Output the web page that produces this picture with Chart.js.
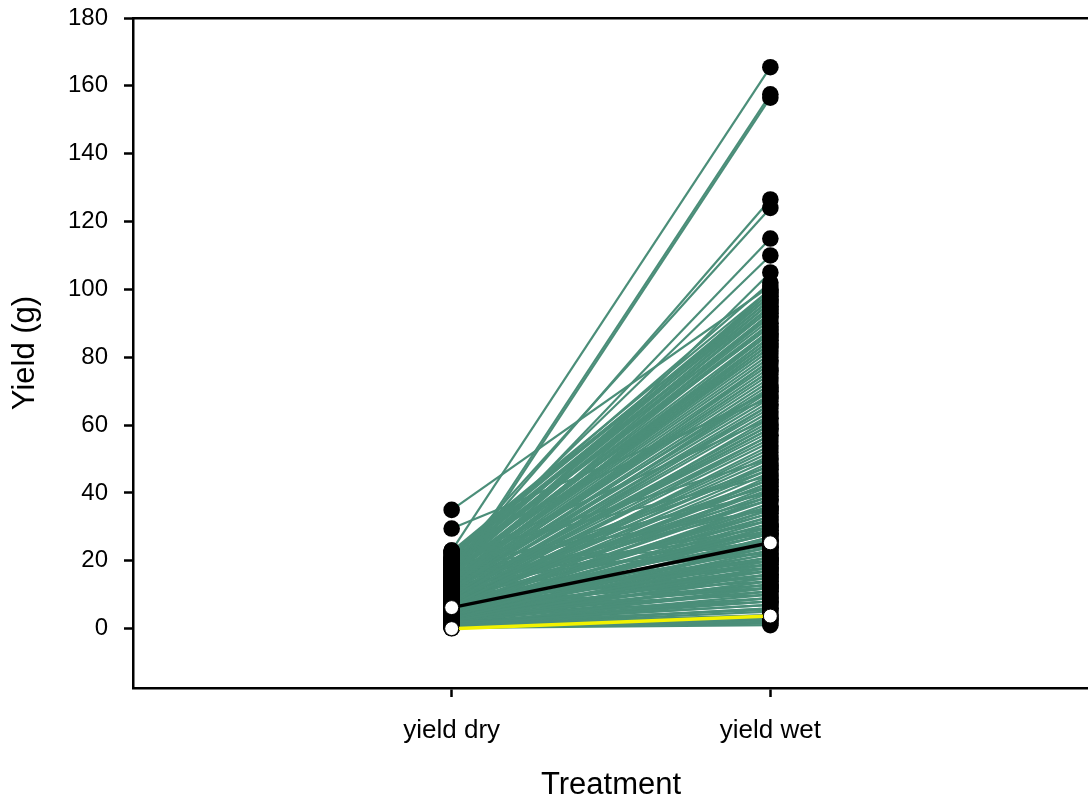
<!DOCTYPE html>
<html lang="en">
<head>
<meta charset="UTF-8">
<title>Yield</title>
<script src="https://cdn.jsdelivr.net/npm/chart.js@4.4.0/dist/chart.umd.min.js"></script>
<style>
    html, body { margin: 0; padding: 0; background: #fff; overflow: hidden; }
    #wrap { width: 1100px; height: 803px; }
</style>
</head>
<body>
<div id="wrap"><canvas id="yieldchart" width="1100" height="803"></canvas></div>
<script>
// treatment categories on the x axis
var categories = ['yield dry', 'yield wet'];
var yTicks = [0, 20, 40, 60, 80, 100, 120, 140, 160, 180];

// paired yields (g), one entry per plant: dry -> wet
var dryYield = [
    23, 15, 14, 35, 29.5, 18, 20, 17, 19, 12, 21, 16, 22.5,
    1.2, 3.5, 7.8, 12.4, 5.1, 9.6, 14.2, 2.3, 17.5, 6.7,
    0.8, 4.4, 11.1, 15.8, 8.9, 19.3, 3.0, 10.5, 13.7, 6.2,
    1.9, 20.4, 7.1, 16.6, 4.8, 12.9, 9.2, 18.1, 2.7, 14.9,
    0.5, 5.6, 11.8, 21.7, 8.3, 13.2, 3.8, 17.0, 6.4, 10.1,
    1.4, 15.3, 7.5, 19.8, 4.1, 12.0, 9.9, 22.1, 2.5, 16.2,
    0.3, 6.9, 13.9, 5.3, 11.4, 18.7, 8.6, 3.3, 14.6, 10.8,
    1.7, 20.9, 7.3, 16.9, 4.6, 12.6, 9.4, 2.1, 15.1, 6.0,
    0.9, 17.8, 8.1, 13.4, 3.6, 11.6, 19.1, 5.8, 10.3, 14.4,
    2.9, 21.2, 7.7, 16.4, 4.3, 12.2, 9.0, 1.1, 18.4, 6.5,
    0.6, 15.6, 8.4, 13.0, 3.1, 11.0, 20.1, 5.0, 10.6, 17.3,
    2.0, 14.0, 7.0, 19.5, 4.9, 12.7, 9.7, 1.5, 16.0, 6.3,
    22.8, 3.9, 11.3, 18.9, 8.0, 13.6, 5.5, 10.0, 15.0, 2.6,
    14, 18, 20, 9, 16, 12, 22, 10, 7, 19,
    21, 17, 13, 11, 15, 8, 6, 20, 23, 4,
    0.4, 1.0, 2.2, 3.4, 4.5, 5.2, 6.1, 7.4, 8.2, 9.1,
    0.7, 1.6, 2.8, 3.7, 4.7, 5.9, 6.6, 7.9, 8.8, 9.5,
    0.2, 1.3, 2.4, 3.2, 4.0, 5.4, 6.8, 7.2, 8.5, 10.2,
    0.9, 1.8, 2.9, 3.5, 4.2, 5.7, 6.4, 7.6, 9.3, 11.2,
    1.2, 2.0, 3.0, 4.4, 5.0, 6.0, 7.0, 8.0, 10.7, 12.5,
    0.1, 1.5, 2.6, 3.8, 4.9, 5.6, 6.9, 8.7, 11.5, 13.1
];
var wetYield = [
    165.5, 157.5, 156.5, 101, 68, 126.5, 124, 115, 110, 105, 102, 100, 98,
    8, 45, 62, 88, 30, 71, 93, 18, 96, 54,
    12, 37, 79, 90, 66, 97, 25, 58, 84, 41,
    5.5, 94, 49, 87, 33, 75, 60, 99, 21, 81,
    2, 39, 68, 92, 52, 77, 27, 85, 46, 64,
    10, 95, 57, 89, 31, 73, 63, 97, 15, 83,
    4, 43, 86, 35, 70, 91, 55, 23, 80, 67,
    7, 96, 47, 88, 29, 76, 59, 14, 82, 38,
    3, 93, 51, 78, 20, 72, 90, 34, 61, 85,
    17, 99, 53, 86, 26, 69, 56, 6, 94, 40,
    1.5, 87, 48, 74, 19, 65, 95, 32, 60, 92,
    11, 79, 44, 98, 28, 71, 57, 9, 84, 36,
    100, 22, 66, 89, 50, 76, 30, 59, 83, 13,
    30, 40, 24, 15, 28, 20, 45, 18, 12, 35,
    50, 22, 26, 38, 42, 24, 16, 62, 70, 8,
    3, 9, 16, 24, 12, 28, 19, 33, 26, 41,
    6, 14, 20, 11, 36, 22, 31, 17, 38, 29,
    1, 4, 27, 9, 18, 42, 25, 14, 34, 44,
    5, 12, 30, 15, 21, 10, 35, 23, 19, 39,
    3.5, 8, 13, 26, 17, 29, 21, 43, 32, 47,
    2.5, 7, 11, 16, 24, 13, 28, 20, 36, 48
];

// black summary line and yellow reference line
var meanDry = 6.2, meanWet = 25.3;
var refDry = 0, refWet = 3.7;

var green = '#4b8e79';
var fontFamily = '"Liberation Sans", Arial, sans-serif';

var datasets = [];
var dots = [];
for (var i = 0; i < dryYield.length; i++) {
    datasets.push({
        data: [{ x: 1, y: dryYield[i] }, { x: 2, y: wetYield[i] }],
        borderColor: green,
        borderWidth: 2.2,
        pointRadius: 0,
        order: 3
    });
    dots.push({ x: 1, y: dryYield[i] });
    dots.push({ x: 2, y: wetYield[i] });
}
datasets.push({
    type: 'scatter',
    data: dots,
    pointRadius: 8.3,
    pointBackgroundColor: '#000',
    pointBorderWidth: 0,
    order: 2
});
datasets.push({
    data: [{ x: 1, y: meanDry }, { x: 2, y: meanWet }],
    borderColor: '#000',
    borderWidth: 3.5,
    pointRadius: 7,
    pointBackgroundColor: '#fff',
    pointBorderColor: '#000',
    pointBorderWidth: 1,
    order: 1
});
datasets.push({
    data: [{ x: 1, y: refDry }, { x: 2, y: refWet }],
    borderColor: '#f2f200',
    borderWidth: 3.5,
    pointRadius: 7,
    pointBackgroundColor: '#fff',
    pointBorderColor: '#000',
    pointBorderWidth: 1,
    order: 0
});

// keep the axes from pushing the plot area around
function noPad(s) {
    s.paddingTop = 0;
    s.paddingBottom = 0;
    s.paddingLeft = 0;
    s.paddingRight = 0;
}

var ctx = document.getElementById('yieldchart').getContext('2d');
new Chart(ctx, {
    type: 'line',
    data: { datasets: datasets },
    options: {
        responsive: false,
        animation: false,
        layout: { padding: { top: 18, right: 11, left: 0, bottom: 0 } },
        plugins: { legend: { display: false }, tooltip: { enabled: false } },
        scales: {
            x: {
                type: 'linear',
                position: 'bottom',
                min: 0,
                max: 3,
                afterBuildTicks: function (s) { s.ticks = [1, 2].map(function (v) { return { value: v }; }); },
                afterFit: function (s) { s.height = 115; noPad(s); },
                ticks: {
                    callback: function (v) { return categories[v - 1]; },
                    font: { family: fontFamily, size: 26 },
                    color: '#000',
                    padding: 18,
                    maxRotation: 0
                },
                grid: { drawOnChartArea: false, tickLength: 9, tickWidth: 2.5, tickColor: '#000' },
                border: { color: '#000', width: 2.5 },
                title: {
                    display: true,
                    text: 'Treatment',
                    font: { family: fontFamily, size: 31, lineHeight: 1 },
                    color: '#000',
                    padding: { top: 0, bottom: 2 }
                }
            },
            xTop: {
                type: 'linear',
                position: 'top',
                min: 0,
                max: 3,
                afterFit: function (s) { s.height = 0; noPad(s); },
                ticks: { display: false },
                grid: { display: false },
                border: { color: '#000', width: 2.5 }
            },
            y: {
                type: 'linear',
                min: -17.5,
                max: 180,
                afterBuildTicks: function (s) { s.ticks = yTicks.map(function (v) { return { value: v }; }); },
                afterFit: function (s) { s.width = 133; noPad(s); },
                ticks: {
                    font: { family: fontFamily, size: 24 },
                    color: '#000',
                    padding: 16
                },
                grid: { drawOnChartArea: false, tickLength: 9, tickWidth: 2.5, tickColor: '#000' },
                border: { color: '#000', width: 2.5 },
                title: {
                    display: true,
                    text: 'Yield (g)',
                    font: { family: fontFamily, size: 31, lineHeight: 1 },
                    color: '#000',
                    padding: { top: 10, bottom: 0 }
                }
            }
        }
    }
});
</script>
</body>
</html>
